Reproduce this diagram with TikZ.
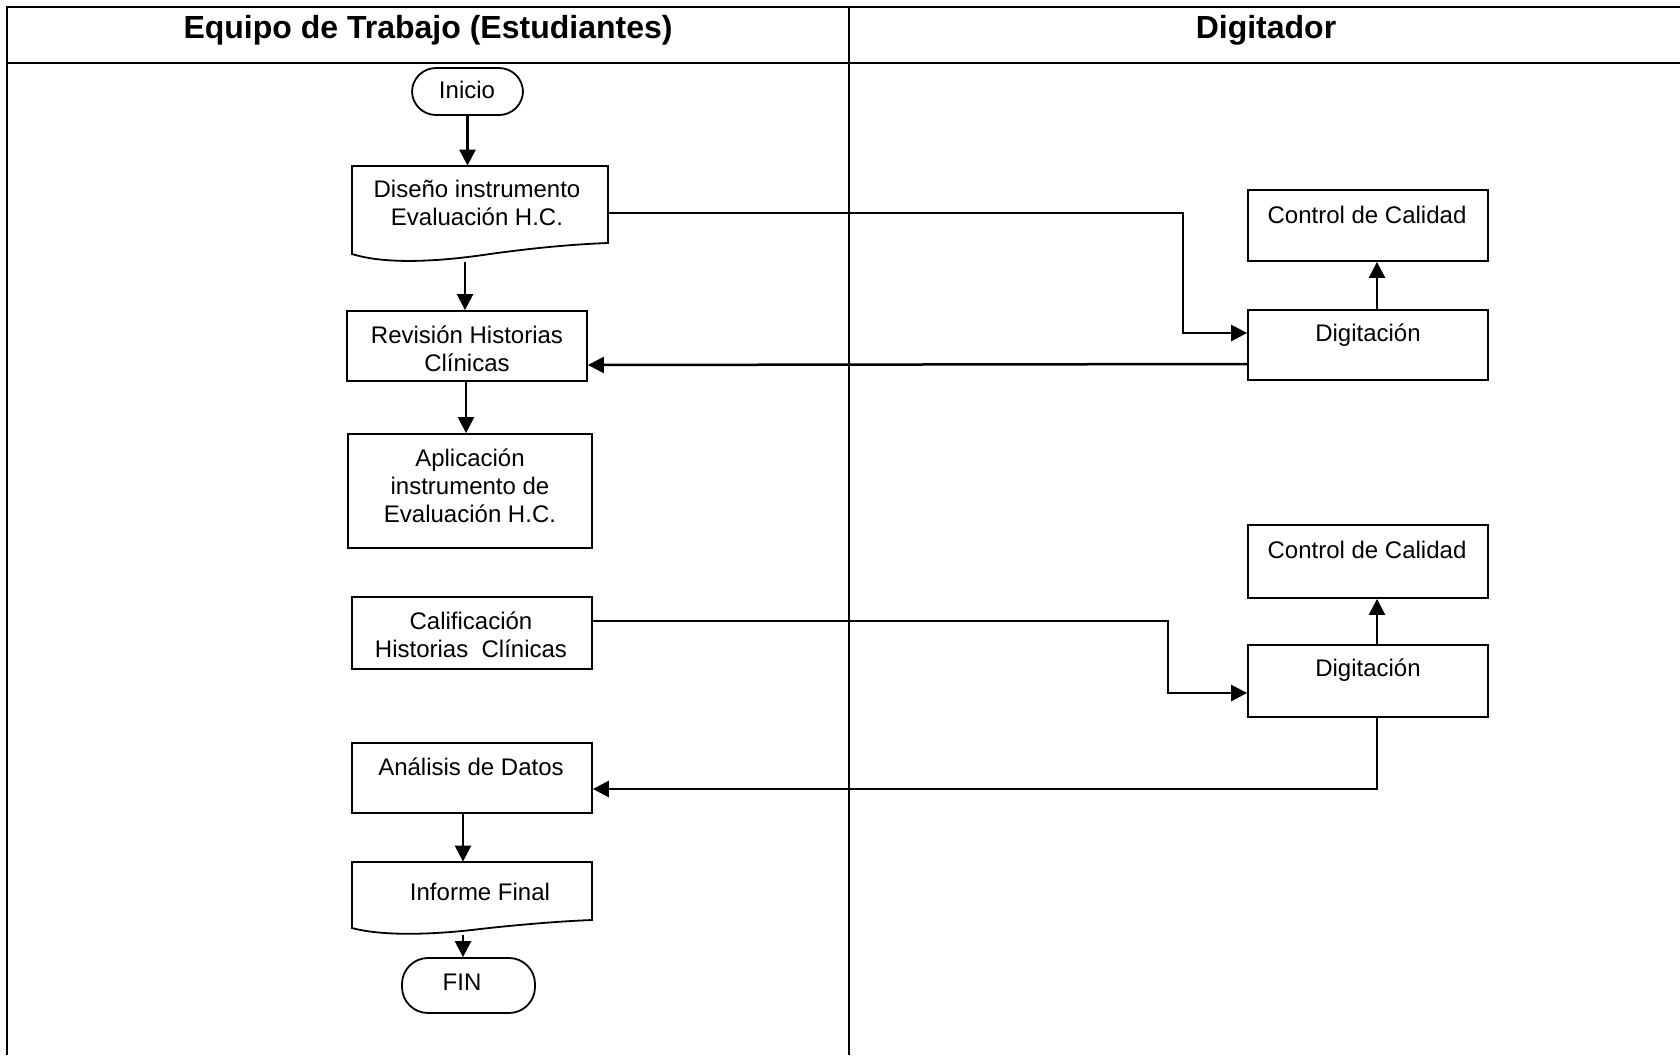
\documentclass[tikz,border=0pt]{standalone}
\usepackage{fontspec}
\setmainfont{Liberation Sans}
\usetikzlibrary{arrows.meta}
\begin{document}
\begin{tikzpicture}[x=0.5pt,y=-0.5pt,
  frame/.style={line width=1.25pt},
  box/.style={draw,line width=0.9pt,rectangle,inner sep=0pt},
  ghost/.style={rectangle,inner sep=0pt},
  term/.style={draw,line width=0.9pt,rectangle,rounded corners=12pt,inner sep=0pt},
  txt/.style={inner sep=0pt,align=center,font=\fontsize{12pt}{14pt}\selectfont},
  head/.style={inner sep=0pt,anchor=base,font=\fontsize{16pt}{19pt}\selectfont\bfseries},
  arr/.style={line width=1.25pt,-{Triangle[length=8pt,width=8pt]}}]
\useasboundingbox (0,0) rectangle (1680,1055);
\fill[white] (0,0) rectangle (1680,1055);

% swimlane frame
\draw[frame] (7,1055) -- (7,7) -- (1680,7);
\draw[frame] (7,63) -- (1680,63);
\draw[frame] (849,7) -- (849,1055);
\node[head] (h1) at (428,38) {Equipo de Trabajo (Estudiantes)};
\node[head] (h2) at (1266,38) {Digitador};

% left lane
\node[term,minimum width=55.5pt,minimum height=23.5pt] (ini) at (467.5,91.5) {};
\node[txt] (tini) at (467,90) {Inicio};

\node[ghost,minimum width=128pt,minimum height=48pt] (dis) at (480,214) {};
\draw[line width=0.9pt] (352,254) -- (352,166) -- (608,166) -- (608,243)
  .. controls (580,244) and (540,247) .. (490,254)
  .. controls (450,260) and (390,266) .. (352,254) -- cycle;
\node[txt] (tdis) at (477,202.5) {Diseño instrumento\\Evaluación H.C.};

\node[box,minimum width=120pt,minimum height=35pt] (rev) at (467,346) {};
\node[txt] (trev) at (467,349) {Revisión Historias\\Clínicas};

\node[box,minimum width=122pt,minimum height=57pt] (apl) at (470,491) {};
\node[txt] (tapl) at (470,486) {Aplicación\\instrumento de\\Evaluación H.C.};

\node[box,minimum width=120pt,minimum height=36pt] (cal) at (472,633) {};
\node[txt] (tcal) at (471,635) {Calificación\\Historias~ Clínicas};

\node[box,minimum width=120pt,minimum height=35pt] (ana) at (472,778) {};
\node[txt] (tana) at (471,767) {Análisis de Datos};

\node[ghost,minimum width=120pt,minimum height=35.5pt] (inf) at (472,897.5) {};
\draw[line width=0.9pt] (352,928) -- (352,862) -- (592,862) -- (592,920)
  .. controls (565,921) and (525,924) .. (480,929)
  .. controls (440,934) and (385,937) .. (352,928) -- cycle;
\node[txt] (tinf) at (480,892) {Informe Final};

\node[term,minimum width=66.5pt,minimum height=27.5pt,rounded corners=13pt] (fin) at (468.5,985.5) {};
\node[txt] (tfin) at (462,982) {FIN};

% right lane
\node[box,minimum width=120pt,minimum height=35.5pt] (ctl1) at (1368,225.5) {};
\node[txt] (tctl1) at (1367,215) {Control de Calidad};
\node[box,minimum width=120pt,minimum height=35pt] (dig1) at (1368,345) {};
\node[txt] (tdig1) at (1368,335) {Digitación};

\node[box,minimum width=120pt,minimum height=36.5pt] (ctl2) at (1368,561.5) {};
\node[txt] (tctl2) at (1367,550) {Control de Calidad};
\node[box,minimum width=120pt,minimum height=36pt] (dig2) at (1368,681) {};
\node[txt] (tdig2) at (1368,670) {Digitación};

% connectors
\coordinate (colA) at (466,0);
\coordinate (colB) at (463,0);
\coordinate (bend1) at (1183,213);
\coordinate (bend2) at (1168,621);

\draw[arr] (ini.south -| ini) -- (dis.north -| ini);
\draw[arr] (dis.south -| 465,0) -- (rev.north -| 465,0);
\draw[arr] (rev.south -| colA) -- (apl.north -| colA);
\draw[arr] (ana.south -| colB) -- (inf.north -| colB);
\draw[arr] ([yshift=-1pt]inf.south -| colB) -- (fin.north -| colB);

\draw[arr] ([yshift=0.5pt]dis.east) -- (bend1) |- ([yshift=6pt]dig1.west);
\draw[arr] ([yshift=-9.5pt]dig1.west) -- ([yshift=-9.5pt]rev.east);
\draw[arr] ([xshift=4.5pt]dig1.north) -- ([xshift=4.5pt]ctl1.south);

\draw[arr] ([yshift=6pt]cal.east) -- (bend2) |- ([yshift=-6pt]dig2.west);
\draw[arr] ([xshift=4.5pt]dig2.south) |- ([yshift=-5.5pt]ana.east);
\draw[arr] ([xshift=4.5pt]dig2.north) -- ([xshift=4.5pt]ctl2.south);
\end{tikzpicture}
\end{document}
